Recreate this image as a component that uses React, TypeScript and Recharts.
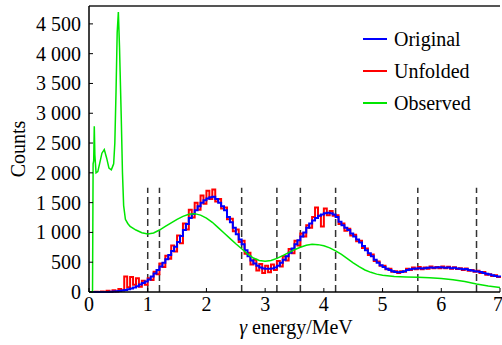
import { LineChart, Line, XAxis, YAxis, ReferenceLine } from 'recharts';

// bins are 0.05 MeV wide, starting at 0
const binWidth = 0.05;

const originalCounts = [
  0, 0, 0, 0, 0, 0, 2, 5, 8, 12,
  18, 25, 35, 45, 60, 75, 95, 125, 150, 175,
  210, 260, 310, 370, 430, 490, 550, 620, 690, 760,
  840, 940, 1040, 1140, 1240, 1310, 1370, 1440, 1500, 1540,
  1570, 1590, 1600, 1560, 1500, 1440, 1370, 1260, 1170, 1080,
  970, 880, 800, 700, 600, 530, 480, 440, 410, 395,
  390, 390, 395, 410, 440, 490, 540, 600, 660, 730,
  800, 870, 930, 1000, 1080, 1150, 1200, 1240, 1280, 1300,
  1320, 1330, 1320, 1300, 1260, 1180, 1120, 1080, 1040, 980,
  930, 880, 830, 770, 700, 650, 600, 540, 490, 450,
  420, 390, 370, 350, 335, 330, 335, 350, 370, 380,
  390, 395, 400, 395, 400, 405, 410, 405, 410, 415,
  410, 405, 410, 400, 405, 395, 390, 380, 385, 370,
  360, 350, 345, 335, 320, 305, 295, 280, 270, 260,
  250,
];

const unfoldedCounts = [
  0, 0, 5, 0, 10, 5, 20, 0, 30, 10,
  50, 30, 260, 80, 250, 120, 230, 90, 190, 120,
  230, 200, 340, 300, 480, 420, 610, 560, 780, 680,
  950, 820, 1150, 1050, 1380, 1250, 1500, 1380, 1620, 1480,
  1700, 1560, 1720, 1520, 1560, 1400, 1420, 1220, 1230, 1020,
  1050, 840, 860, 640, 660, 460, 540, 360, 470, 320,
  440, 330, 460, 370, 520, 430, 600, 530, 720, 650,
  860, 780, 980, 930, 1120, 1080, 1260, 1420, 1280, 1100,
  1400, 1290, 1360, 1280, 1290, 1140, 1150, 1030, 1060, 950,
  960, 850, 860, 740, 730, 620, 630, 520, 510, 440,
  440, 380, 390, 340, 350, 320, 350, 340, 390, 370,
  410, 380, 420, 380, 410, 390, 430, 400, 420, 400,
  430, 400, 425, 390, 415, 385, 400, 370, 395, 355,
  370, 340, 355, 320, 335, 290, 300, 270, 280, 250,
  260,
];

const observedEnergy = [
  0, 0.06, 0.07, 0.08, 0.09, 0.1, 0.12, 0.15, 0.18, 0.22,
  0.26, 0.3, 0.34, 0.38, 0.4, 0.42, 0.44, 0.46, 0.48, 0.5,
  0.52, 0.53, 0.55, 0.57, 0.59, 0.62, 0.66, 0.7, 0.8, 0.9,
  1.0, 1.1, 1.2, 1.3, 1.4, 1.5, 1.6, 1.7, 1.8, 1.9,
  2.0, 2.1, 2.2, 2.3, 2.4, 2.5, 2.6, 2.7, 2.8, 2.9,
  3.0, 3.1, 3.2, 3.3, 3.4, 3.5, 3.6, 3.7, 3.8, 3.9,
  4.0, 4.1, 4.2, 4.3, 4.4, 4.5, 4.6, 4.7, 4.8, 4.9,
  5.0, 5.2, 5.4, 5.6, 5.8, 6.0, 6.2, 6.4, 6.6, 6.8,
  7.0,
];

const observedCounts = [
  0, 0, 2150, 2200, 2780, 2300, 2000, 2020, 2150, 2330,
  2390, 2250, 2080, 2050, 2100, 2150, 2500, 3350, 4350, 4700,
  4100, 3700, 2900, 2000, 1450, 1220, 1150, 1100, 1040, 995,
  975, 990, 1040, 1100, 1160, 1220, 1270, 1305, 1315, 1290,
  1240, 1170, 1080, 990, 900, 810, 725, 640, 570, 530,
  515, 530, 565, 610, 660, 710, 750, 785, 800, 795,
  775, 740, 690, 630, 560, 490, 425, 370, 330, 300,
  280, 260, 252, 248, 240, 225, 205, 175, 135, 100,
  75,
];

const boundaries = [1.0, 1.2, 2.6, 3.2, 3.6, 4.2, 5.6, 6.6];
const boundaryTop = 1750;

const xTicks = [0, 1, 2, 3, 4, 5, 6, 7];
const yTicks = [0, 500, 1000, 1500, 2000, 2500, 3000, 3500, 4000, 4500];

const series = [
  { key: 'original', name: 'Original', color: '#0000ff' },
  { key: 'unfolded', name: 'Unfolded', color: '#ff0000' },
  { key: 'observed', name: 'Observed', color: '#00e600' },
];

const binned = originalCounts.map((v, i) => ({
  e: Number((i * binWidth).toFixed(2)),
  original: v,
  unfolded: unfoldedCounts[i],
}));

const observed = observedEnergy.map((e, i) => ({ e, observed: observedCounts[i] }));

const font = '"Liberation Serif", "Times New Roman", serif';
const textStyle = { fontFamily: font, fontSize: 20 };

const fmt = (v: number) =>
  v >= 1000 ? `${Math.floor(v / 1000)} ${String(v % 1000).padStart(3, '0')}` : String(v);

function XTick({ x, y, payload }: any) {
  return (
    <text x={x} y={y + 15} textAnchor="middle" fill="#000" style={textStyle}>
      {payload.value}
    </text>
  );
}

function YTick({ x, y, payload }: any) {
  return (
    <text x={x} y={y + 7} textAnchor="end" fill="#000" style={textStyle}>
      {fmt(payload.value)}
    </text>
  );
}

function LegendBox() {
  return (
    <div style={{ position: 'absolute', left: 363, top: 23, fontFamily: font, fontSize: 20, color: '#000' }}>
      {series.map((s) => (
        <div key={s.key} style={{ display: 'flex', alignItems: 'center', height: 32 }}>
          <div style={{ width: 24, height: 2, background: s.color, marginRight: 7 }} />
          <span>{s.name}</span>
        </div>
      ))}
    </div>
  );
}

export default function App() {
  return (
    <div style={{ position: 'absolute', left: 0, top: 0, width: 502, height: 345, background: '#fff', fontFamily: font }}>
      <LineChart width={502} height={345} data={binned} margin={{ top: 6, right: 2, bottom: 0, left: 0 }}>
        <XAxis
          dataKey="e"
          type="number"
          domain={[0, 7]}
          ticks={xTicks}
          height={53}
          tick={<XTick />}
          tickSize={-4}
          tickMargin={8}
          axisLine={{ stroke: '#000', strokeWidth: 1.5 }}
          tickLine={{ stroke: '#000' }}
          label={{
            content: () => (
              <text x={296} y={334} textAnchor="middle" fill="#000" style={textStyle}>
                <tspan fontStyle="italic">γ</tspan> energy/MeV
              </text>
            ),
          }}
        />
        <YAxis
          type="number"
          domain={[0, 4800]}
          ticks={yTicks}
          width={89}
          tick={<YTick />}
          tickSize={-4}
          tickMargin={12}
          axisLine={{ stroke: '#000', strokeWidth: 1.5 }}
          tickLine={{ stroke: '#000' }}
          label={{
            content: () => (
              <text
                x={18}
                y={149}
                transform="rotate(-90 18 149)"
                textAnchor="middle"
                dominantBaseline="central"
                fill="#000"
                style={textStyle}
              >
                Counts
              </text>
            ),
          }}
        />
        <ReferenceLine y={4800} stroke="#555" strokeWidth={2} />
        {boundaries.map((b) => (
          <ReferenceLine
            key={b}
            segment={[{ x: b, y: 0 }, { x: b, y: boundaryTop }]}
            stroke="#333"
            strokeWidth={1.5}
            strokeDasharray="7 4"
          />
        ))}
        <Line
          dataKey="unfolded"
          type="stepAfter"
          stroke="#ff0000"
          strokeWidth={2}
          dot={false}
          isAnimationActive={false}
        />
        <Line
          dataKey="original"
          type="stepAfter"
          stroke="#0000ff"
          strokeWidth={2}
          dot={false}
          isAnimationActive={false}
        />
        <Line
          data={observed}
          dataKey="observed"
          type="linear"
          stroke="#00e600"
          strokeWidth={1.5}
          dot={false}
          isAnimationActive={false}
        />
      </LineChart>
      <LegendBox />
    </div>
  );
}
